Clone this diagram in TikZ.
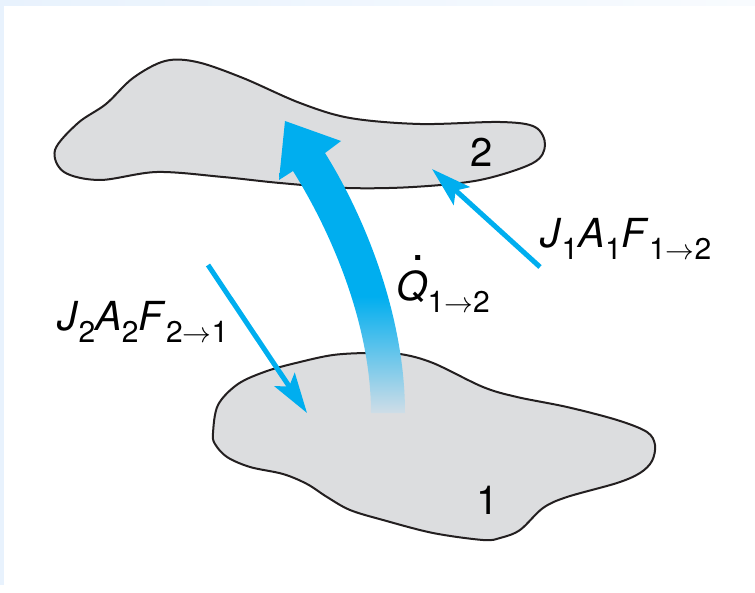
\documentclass[tikz,border=0pt]{standalone}
\usepackage{fontspec}
\setmainfont{TeX Gyre Heros}
\usepackage{xcolor}
\usetikzlibrary{arrows.meta}
\definecolor{fluxblue}{HTML}{00AEEF}
\definecolor{surfgray}{HTML}{DCDDDF}
\definecolor{inkblack}{HTML}{231F20}
\definecolor{fadeblue}{HTML}{CFDDE7}
\definecolor{pageblue}{HTML}{E8F2FD}
\pgfdeclareverticalshading{qfade}{100bp}{color(0bp)=(fadeblue); color(25bp)=(fadeblue); color(45bp)=(fluxblue); color(100bp)=(fluxblue)}
\newcommand{\lsub}[1]{\raisebox{-6pt}{\fontsize{15}{15}\selectfont #1}}
\newcommand{\qdot}{\leavevmode\rlap{\hspace{7.5pt}\raisebox{20pt}{\fontsize{24}{24}\selectfont .}}\textit{Q}}

\begin{document}
\begin{tikzpicture}[x=0.5pt,y=-0.5pt,
    every node/.style={font=\fontsize{20}{24}\selectfont,inner sep=0pt},
    surface/.style={fill=surfgray,draw=inkblack,line width=1pt},
    flux/.style={fluxblue,line width=2.5pt,-{Stealth[length=20pt,width=12pt,inset=4pt]}}]
    \useasboundingbox (0,0) rectangle (755,593);
    \shade[left color=pageblue,right color=pageblue!30] (0,0) rectangle (755,6);
    \fill[pageblue] (0,0) rectangle (4,585);

    \draw[surface] plot[smooth cycle,tension=0.55] coordinates {
      (55,150) (78,123) (106,104) (133,78) (165,61) (197,62) (243,78)
      (300,103) (350,118) (420,124) (500,122) (535,127) (545,145)
      (533,163) (480,180) (413,187) (347,188) (280,183) (223,177) (157,172)
      (100,180) (64,172)};
    \draw[surface] plot[smooth cycle,tension=0.55] coordinates {
      (213,433) (218,405) (238,384) (267,371) (300,362) (333,355) (367,353)
      (400,354) (433,363) (483,387) (517,397) (567,407) (617,420) (647,432)
      (655,445) (652,461) (640,473) (617,483) (567,497) (543,508) (520,530)
      (500,538) (483,540) (433,533) (383,520) (350,510) (327,497) (307,484)
      (283,474) (250,467) (227,457) (215,444)};

    \shade[shading=qfade] (371,413) .. controls (371,330) and (336,240) .. (293,171)
      -- (279,180) -- (285,121) -- (341,141) -- (325,153)
      .. controls (368,222) and (405,320) .. (405,413) -- cycle;

    \node (surf2) at (482,152) {2};
    \node (surf1) at (488,500) {1};
    \node[anchor=base west] (qlbl) at (396,300) {\qdot\lsub{1$\rightarrow$2}};
    \node[anchor=base west] (j1lbl) at (540,248) {\textit{J}\lsub{1}\textit{A}\lsub{1}\textit{F}\lsub{1$\rightarrow$2}};
    \node[anchor=base west] (j2lbl) at (57,330) {\textit{J}\lsub{2}\textit{A}\lsub{2}\textit{F}\lsub{2$\rightarrow$1}};

    \coordinate (j1tail) at (540,267);
    \coordinate (j1tip) at (432,169);
    \coordinate (j2tail) at (208,265);
    \coordinate (j2tip) at (307,413);
    \foreach \a/\b in {j1tail/j1tip,j2tail/j2tip}
      \draw[flux] (\a) -- (\b);
\end{tikzpicture}
\end{document}
